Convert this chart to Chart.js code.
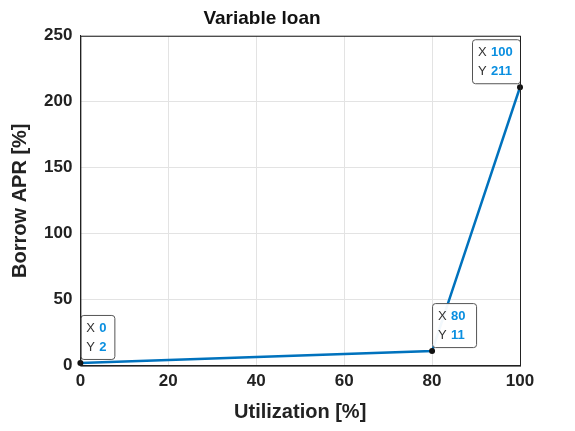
<!DOCTYPE html>
<html><head><meta charset="utf-8">
<script src="https://cdn.jsdelivr.net/npm/chart.js@4/dist/chart.umd.min.js"></script>
<style>body{margin:0;background:#fff}#wrap{width:575px;height:431px}</style>
</head><body><div id="wrap"><canvas id="c"></canvas></div>
<script>
const utilization=[0,80,100];
const borrowApr=[2,11,211];
const xTicks=[0,20,40,60,80,100];
const yTicks=[0,50,100,150,200,250];

// datatip boxes, drawn off the scales
const tipPlugin={id:"tips",afterDatasetsDraw(chart){
  const ctx=chart.ctx, xs=chart.scales.x, ys=chart.scales.y;
  utilization.forEach((u,i)=>{
    const px=xs.getPixelForValue(u), py=ys.getPixelForValue(borrowApr[i]);
    ctx.save();
    ctx.fillStyle="#111"; ctx.beginPath(); ctx.arc(px,py,3,0,Math.PI*2); ctx.fill();
    ctx.font="13px 'Liberation Sans', Arial";
    const w=i==2?48:(i==1?44:34), h=44;
    const bx=i==2?px-w:px, by=py-h-4;
    ctx.fillStyle="rgba(255,255,255,0.95)"; ctx.strokeStyle="#555"; ctx.lineWidth=1;
    ctx.beginPath(); ctx.roundRect(bx+0.5,by+0.5,w,h,3); ctx.fill(); ctx.stroke();
    ctx.fillStyle="#333"; ctx.textBaseline="middle";
    ctx.fillText("X",bx+6,by+13); ctx.fillText("Y",bx+6,by+32);
    ctx.fillStyle="#0a8fe0"; ctx.font="bold 13px 'Liberation Sans', Arial";
    ctx.fillText(String(u),bx+19,by+13); ctx.fillText(String(borrowApr[i]),bx+19,by+32);
    ctx.restore();
  });
  ctx.save(); ctx.strokeStyle="#222"; ctx.lineWidth=1;
  const a=chart.chartArea; ctx.strokeRect(a.left+0.5,a.top+0.5,a.right-a.left,a.bottom-a.top); ctx.restore();
}};

new Chart(document.getElementById("c"),{
  type:"line",
  data:{datasets:[{data:utilization.map((u,i)=>({x:u,y:borrowApr[i]})),borderColor:"#0072BD",borderWidth:2.5,pointRadius:0,tension:0}]},
  options:{responsive:true,maintainAspectRatio:false,animation:false,
    layout:{padding:{left:4,right:55,top:5,bottom:3}},
    plugins:{legend:{display:false},tooltip:{enabled:false},
      title:{display:true,text:"Variable loan",color:"#111",font:{family:"'Liberation Sans', Arial",size:19,weight:"bold"},padding:{top:2,bottom:6}}},
    scales:{
      x:{type:"linear",min:0,max:100,afterBuildTicks:s=>{s.ticks=xTicks.map(v=>({value:v}))},
        grid:{color:"#e3e3e3",drawTicks:false},border:{color:"#222"},
        ticks:{color:"#222",padding:6,font:{family:"'Liberation Sans', Arial",size:17,weight:"bold"}},
        title:{display:true,text:"Utilization [%]",color:"#222",font:{family:"'Liberation Sans', Arial",size:20,weight:"bold"},padding:{top:2}}},
      y:{min:0,max:250,afterBuildTicks:s=>{s.ticks=yTicks.map(v=>({value:v}))},
        grid:{color:"#e3e3e3",drawTicks:false},border:{color:"#222"},
        ticks:{color:"#222",padding:8,font:{family:"'Liberation Sans', Arial",size:17,weight:"bold"}},
        title:{display:true,text:"Borrow APR [%]",color:"#222",font:{family:"'Liberation Sans', Arial",size:20,weight:"bold"},padding:{bottom:4}}}
    }},
  plugins:[tipPlugin]
});
</script></body></html>
